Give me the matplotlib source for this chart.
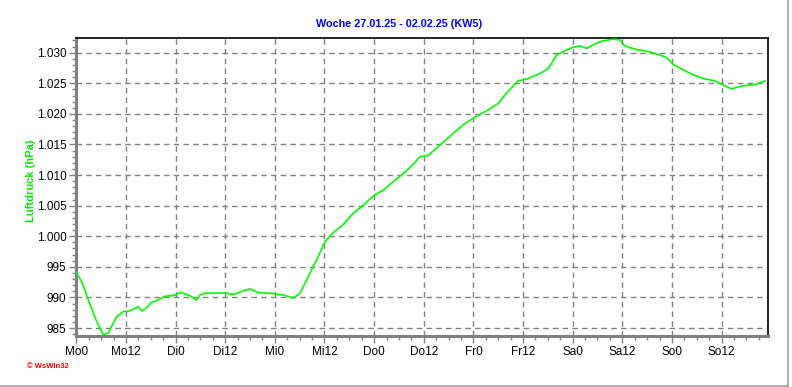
import matplotlib
matplotlib.use("Agg")
import matplotlib.pyplot as plt
from matplotlib.ticker import FuncFormatter, MultipleLocator, FixedLocator
from matplotlib.lines import Line2D

title = "Woche 27.01.25 - 02.02.25 (KW5)"
ylabel = "Luftdruck (hPa)"
credit = "\u00a9 WsWin32"

tick_labels = ["Mo0", "Mo12", "Di0", "Di12", "Mi0", "Mi12", "Do0", "Do12",
               "Fr0", "Fr12", "Sa0", "Sa12", "So0", "So12"]
tick_hours = [0, 12, 24, 36, 48, 60, 72, 84, 96, 108, 120, 132, 144, 156]

hours = [0, 1.3, 2.9, 4.9, 6.5, 7.7, 9.8, 11.4, 12.6, 13.8, 15.0, 15.8, 17.0,
         18.2, 19.8, 21.4, 23.4, 25.1, 26.7, 27.9, 29.1, 29.9, 31.1, 36.4,
         38.0, 39.6, 42.0, 44.0, 46.4, 48.0, 50.0, 52.5, 54.1, 56.5, 58.5,
         60.1, 62.1, 64.5, 67.0, 69.4, 72.2, 74.2, 76.2, 79.0, 81.5, 83.1,
         85.1, 87.9, 91.1, 93.5, 96.0, 99.2, 102.0, 104.0, 106.8, 108.9,
         112.1, 114.1, 116.1, 118.1, 120.1, 121.8, 123.4, 125.0, 127.0,
         129.8, 131.4, 132.6, 135.5, 138.3, 141.1, 142.7, 144.3, 146.7,
         149.1, 152.0, 154.4, 156.4, 158.4, 161.2, 164.1, 166.5]
pressure = [994.1, 992.6, 989.6, 986.1, 983.9, 984.2, 986.9, 987.7, 987.7,
            988.1, 988.5, 987.8, 988.3, 989.2, 989.6, 990.2, 990.3, 990.8,
            990.5, 990.1, 989.6, 990.4, 990.7, 990.7, 990.5, 990.9, 991.4,
            990.8, 990.7, 990.6, 990.4, 989.9, 990.7, 994.0, 996.7, 999.1,
            1000.6, 1001.9, 1003.8, 1005.1, 1006.8, 1007.5, 1008.7, 1010.2,
            1011.8, 1013.0, 1013.2, 1014.9, 1016.8, 1018.2, 1019.3, 1020.5,
            1021.7, 1023.4, 1025.4, 1025.7, 1026.6, 1027.4, 1029.6, 1030.3,
            1030.9, 1031.1, 1030.7, 1031.3, 1031.9, 1032.2, 1032.1, 1031.1,
            1030.5, 1030.2, 1029.6, 1029.2, 1028.1, 1027.2, 1026.4, 1025.7,
            1025.4, 1024.7, 1024.1, 1024.6, 1024.8, 1025.4]

plt.rcParams['font.family'] = ['Liberation Sans', 'DejaVu Sans']

W, H = 792, 387
fig = plt.figure(figsize=(W / 100, H / 100), dpi=100)
L, R, T, B = 76.3, 768.3, 38, 336
ax = fig.add_axes([L / W, 1 - B / H, (R - L) / W, (B - T) / H])

ax.plot(hours, pressure, color="#00ff00", lw=1.2, zorder=3)

ax.set_xlim(0, 167.3)
ax.set_ylim(983.7, 1032.4)

ax.set_xticks(tick_hours)
ax.set_xticklabels(tick_labels)
ax.xaxis.set_minor_locator(MultipleLocator(3))
ax.yaxis.set_major_locator(MultipleLocator(5))
ax.yaxis.set_minor_locator(MultipleLocator(1))


def fmt(v, pos):
    v = int(round(v))
    if v >= 1000:
        return f"{v // 1000}.{v % 1000:03d}"
    return str(v)


ax.yaxis.set_major_formatter(FuncFormatter(fmt))

ax.grid(True, which="major", color="#808080", linestyle=(0, (4, 3)), lw=1.0)
ax.set_axisbelow(True)

for s in ("left", "bottom"):
    ax.spines[s].set_color("#808080")
    ax.spines[s].set_linewidth(2.2)
for s in ("top", "right"):
    ax.spines[s].set_color("black")
    ax.spines[s].set_linewidth(1.2)

ax.tick_params(which="major", length=5, width=1, color="#808080",
               labelsize=8.5, pad=2, labelcolor="black")
ax.tick_params(which="minor", length=3, width=1, color="#808080")

fig.text(399 / W, 1 - 24 / H, title, color="#0000ff", fontsize=7.8,
         fontweight="bold", ha="center", va="center")
fig.text(31.5 / W, 1 - 181 / H, ylabel, color="#00ee00", fontsize=8,
         fontweight="bold", ha="center", va="center", rotation=90)
fig.text(27 / W, 1 - 367 / H, credit, color="#ff0000", fontsize=5.5,
         fontweight="bold", ha="left", va="center")

# window border (right and bottom)
fig.add_artist(Line2D([787.5 / W, 787.5 / W], [1 - 385.5 / H, 1], color="#a0a0a0",
                      lw=1.2, transform=fig.transFigure))
fig.add_artist(Line2D([0, 787.5 / W], [1 - 385.5 / H, 1 - 385.5 / H],
                      color="#a0a0a0", lw=1.2, transform=fig.transFigure))

fig.savefig("out.png", dpi=100)
